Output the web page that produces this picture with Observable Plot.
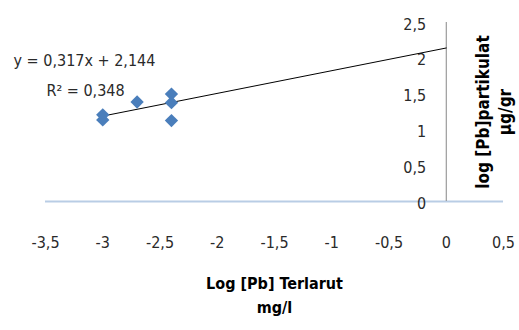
<!DOCTYPE html>
<html>
<head>
<meta charset="utf-8">
<script src="https://cdn.jsdelivr.net/npm/d3@7"></script>
<script src="https://cdn.jsdelivr.net/npm/@observablehq/plot@0.6"></script>
<style>
  html, body { margin: 0; padding: 0; background: #fff; }
  #chart svg { display: block; }
</style>
</head>
<body>
<div id="chart"></div>
<script>
// Data
const logTerlarut = [-3, -3, -2.7, -2.4, -2.4, -2.4];
const logPartikulat = [1.21, 1.14, 1.39, 1.50, 1.38, 1.13];
const xTicks = [-3.5, -3, -2.5, -2, -1.5, -1, -0.5, 0, 0.5];
const yTicks = [0, 0.5, 1, 1.5, 2, 2.5];
const slope = 0.317;
const intercept = 2.144;
const rSquared = 0.348;
const trendXs = [-3, 0];
const xTitle = ["Log [Pb] Terlarut", "mg/l"];
const yTitle = ["log [Pb]partikulat", "µg/gr"];

const points = logTerlarut.map((x, i) => ({x, y: logPartikulat[i]}));
const trend = trendXs.map(x => ({x, y: slope * x + intercept}));
const fmt = d => String(d).replace(".", ",");
const font = "'Liberation Sans Narrow', 'DejaVu Sans Condensed', 'Liberation Sans', sans-serif";
const textColor = "#2a2a2a";

const chart = Plot.plot({
  width: 519,
  height: 330,
  marginLeft: 45,
  marginRight: 16,
  marginTop: 22,
  marginBottom: 129,
  x: {domain: [-3.5, 0.5]},
  y: {domain: [0, 2.5], axis: null},
  style: {fontFamily: font, fontSize: "16px", color: textColor, background: "#fff"},
  marks: [
    Plot.ruleY([0], {x1: -3.5, x2: 0.5, stroke: "#b9cde5", strokeWidth: 2}),
    Plot.ruleX([0], {y1: 0, y2: 2.5, stroke: "#868686", strokeWidth: 1}),
    Plot.axisX(xTicks, {tickSize: 0, tickPadding: 35, tickFormat: fmt, fontSize: 16, fill: textColor, label: null}),
    Plot.text(yTicks, {x: 0, y: d => d, text: fmt, dx: -20, dy: 2, textAnchor: "end", fontSize: 16, fill: textColor}),
    Plot.line(trend, {x: "x", y: "y", stroke: "#000", strokeWidth: 1}),
    Plot.dot(points, {x: "x", y: "y", symbol: "diamond2", r: 6, fill: "#4a7ebb", stroke: "none"}),
    Plot.text([`y = ${fmt(slope)}x + ${fmt(intercept)}`], {x: -3.16, y: 1.97, fontSize: 16, fill: textColor}),
    Plot.text([`R² = ${fmt(rSquared)}`], {x: -3.15, y: 1.55, fontSize: 16, fill: textColor}),
    Plot.text([xTitle[0]], {frameAnchor: "bottom", dy: 87, fontWeight: "bold", fontSize: 16, fill: "#000"}),
    Plot.text([xTitle[1]], {frameAnchor: "bottom", dy: 111, fontWeight: "bold", fontSize: 16, fill: "#000"}),
    Plot.text([yTitle[0]], {x: 0.5, y: 1.25, dx: -20, rotate: -90, fontWeight: "bold", fontSize: 17, fill: "#000"}),
    Plot.text([yTitle[1]], {x: 0.5, y: 1.25, dx: 2, rotate: -90, fontWeight: "bold", fontSize: 17, fill: "#000"})
  ]
});
document.getElementById("chart").append(chart);
</script>
</body>
</html>
